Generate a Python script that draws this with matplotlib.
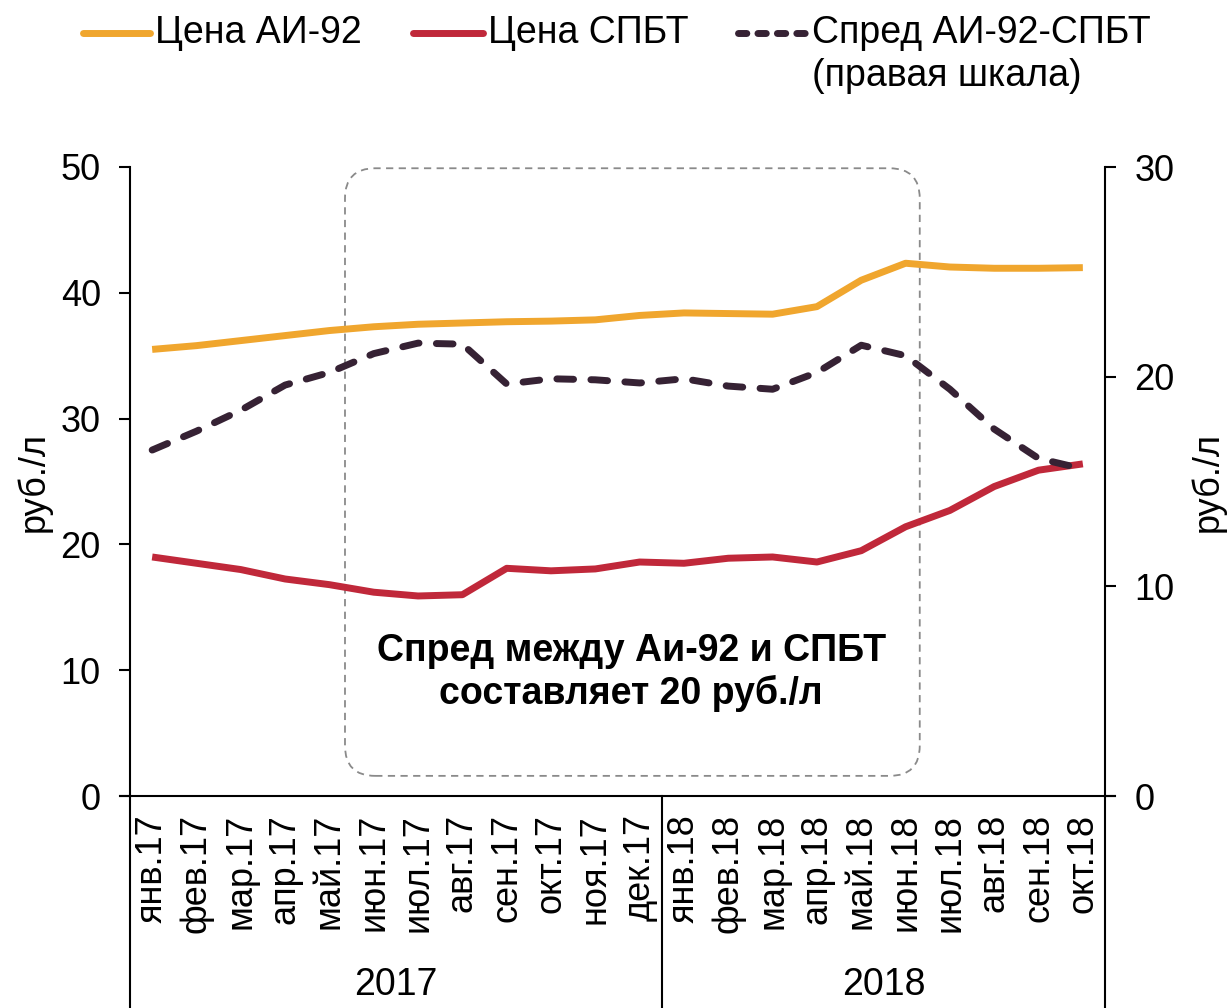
import matplotlib
matplotlib.use("Agg")
import matplotlib.pyplot as plt
from matplotlib.lines import Line2D
from matplotlib.patches import FancyBboxPatch

plt.rcParams['font.family'] = ['Liberation Sans', 'DejaVu Sans']

months = ["янв.17", "фев.17", "мар.17", "апр.17", "май.17", "июн.17", "июл.17", "авг.17",
          "сен.17", "окт.17", "ноя.17", "дек.17",
          "янв.18", "фев.18", "мар.18", "апр.18", "май.18", "июн.18", "июл.18", "авг.18",
          "сен.18", "окт.18"]
years = ["2017", "2018"]
ai92 = [35.5, 35.8, 36.2, 36.6, 37.0, 37.3, 37.5, 37.6, 37.7, 37.75, 37.85, 38.2,
        38.4, 38.35, 38.3, 38.9, 41.0, 42.35, 42.05, 41.95, 41.95, 42.0]
spbt = [19.0, 18.5, 18.0, 17.25, 16.8, 16.2, 15.9, 16.0, 18.1, 17.9, 18.05, 18.6,
        18.5, 18.9, 19.0, 18.6, 19.5, 21.4, 22.7, 24.6, 25.9, 26.4]
spread = [16.5, 17.4, 18.4, 19.6, 20.2, 21.1, 21.6, 21.55, 19.65, 19.9, 19.85, 19.7,
          19.9, 19.55, 19.4, 20.2, 21.5, 21.0, 19.4, 17.5, 16.1, 15.6]

C_AI = "#F0A62E"
C_SP = "#C0283A"
C_DS = "#362234"
FS = 26
FSL = 27

fig = plt.figure(figsize=(12.29, 10.08), dpi=100)
ax = fig.add_axes([130/1229, 212/1008, 975/1229, 629/1008])
ax2 = ax.twinx()

x = list(range(len(months)))
ax.plot(x, ai92, color=C_AI, lw=5, solid_capstyle='butt', zorder=3)
ax.plot(x, spbt, color=C_SP, lw=5, solid_capstyle='butt', zorder=3)
ax2.plot(x, spread, color=C_DS, lw=5, dashes=(2.4, 2.5), dash_capstyle='round', zorder=3)

ax.set_xlim(-0.5, len(months) - 0.5)
ax.set_ylim(0, 50)
ax.set_yticks([0, 10, 20, 30, 40, 50])
ax2.set_ylim(0, 30)
ax2.set_yticks([0, 10, 20, 30])

for a in (ax, ax2):
    a.spines['top'].set_visible(False)
    for s in a.spines.values():
        s.set_linewidth(1.5)
        s.set_color('black')
ax2.spines['left'].set_visible(False)
ax2.spines['bottom'].set_visible(False)
ax.spines['right'].set_visible(False)

ax.tick_params(axis='y', direction='out', length=8, width=1.5, labelsize=FS, pad=13)
ax2.tick_params(axis='y', direction='out', length=8, width=1.5, labelsize=FS, pad=13)
ax.set_xticks(x)
ax.set_xticklabels(months, rotation=90, fontsize=FS)
ax.tick_params(axis='x', length=0, pad=13)

ax.set_ylabel("руб./л", fontsize=FS)
ax2.set_ylabel("руб./л", fontsize=FS)
ax.yaxis.set_label_coords(-0.080, 0.5)
ax2.yaxis.set_label_coords(1.087, 0.5)

# extend the zero tick lines across the bottom spine
ax.plot([-0.0103, 0], [0, 0], transform=ax.transAxes, color='black', lw=1.5, clip_on=False)
ax.plot([1, 1.0103], [0, 0], transform=ax.transAxes, color='black', lw=1.5, clip_on=False)

# category group separators and year labels
for xs in (-0.5, 11.5, 21.5):
    ax.plot([xs, xs], [0, -0.34], transform=ax.get_xaxis_transform(), color='black',
            lw=1.5, clip_on=False)
ax.text(5.5, -0.30, years[0], transform=ax.get_xaxis_transform(), ha='center', va='center',
        fontsize=FSL)
ax.text(16.5, -0.30, years[1], transform=ax.get_xaxis_transform(), ha='center', va='center',
        fontsize=FSL)

# annotation box
box = FancyBboxPatch((0.2205, 0.032), 0.810 - 0.2205, 0.998 - 0.032,
                     boxstyle="round,pad=0,rounding_size=0.031",
                     mutation_aspect=975/629, transform=ax.transAxes,
                     fill=False, edgecolor='#8a8a8a', lw=1.3, linestyle=(0, (4, 3)),
                     clip_on=False, zorder=1)
ax.add_patch(box)
ax.text(0.514, 0.197, "Спред между Аи-92 и СПБТ\nсоставляет 20 руб./л",
        transform=ax.transAxes, ha='center', va='center', fontsize=27, fontweight='bold',
        family=['Liberation Sans Narrow', 'Liberation Sans', 'DejaVu Sans'],
        linespacing=1.2, zorder=4)

# legend drawn manually in figure pixel fractions
W, H = 1229, 1008
def leg(x0, x1, y, **kw):
    fig.add_artist(Line2D([x0/W, x1/W], [1 - y/H, 1 - y/H], transform=fig.transFigure, **kw))
leg(83, 150, 33, color=C_AI, lw=5, solid_capstyle='round')
leg(413, 483, 33, color=C_SP, lw=5, solid_capstyle='round')
leg(738, 806, 33, color=C_DS, lw=5, dashes=(1.2, 1.6), dash_capstyle='round')
fig.text(155/W, 1 - 33/H, "Цена АИ-92", fontsize=FSL, ha='left', va='center')
fig.text(488/W, 1 - 33/H, "Цена СПБТ", fontsize=FSL, ha='left', va='center')
fig.text(812/W, 1 - 33/H, "Спред АИ-92-СПБТ", fontsize=FSL, ha='left', va='center')
fig.text(812/W, 1 - 76/H, "(правая шкала)", fontsize=FSL, ha='left', va='center')

fig.savefig("out.png", dpi=100)
